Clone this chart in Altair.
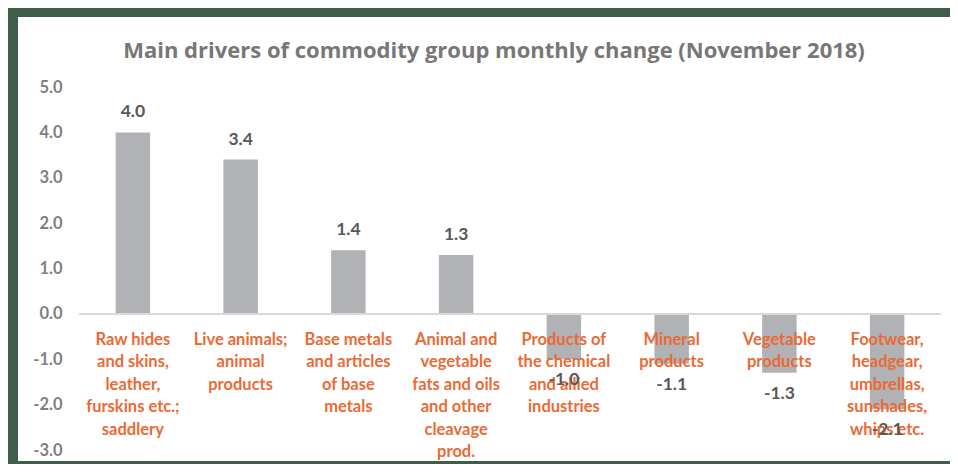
import altair as alt
import pandas as pd

title_text = "Main drivers of commodity group monthly change (November 2018)"
categories = [
    "Raw hides\nand skins,\nleather,\nfurskins etc.;\nsaddlery",
    "Live animals;\nanimal\nproducts",
    "Base metals\nand articles\nof base\nmetals",
    "Animal and\nvegetable\nfats and oils\nand other\ncleavage\nprod.",
    "Products of\nthe chemical\nand allied\nindustries",
    "Mineral\nproducts",
    "Vegetable\nproducts",
    "Footwear,\nheadgear,\numbrellas,\nsunshades,\nwhips etc.",
]
values = [4.0, 3.4, 1.4, 1.3, -1.0, -1.1, -1.3, -2.1]
y_ticks = [-3, -2, -1, 0, 1, 2, 3, 4, 5]

df = pd.DataFrame({"cat": categories, "value": values})

W, H = 862, 363
PL, PT, PR, PB = 71, 79, 9, 14
FONT = "Lato"
GREEN = "#3E5E4A"
LABEL_EXPR = "(datum.value < 0 ? '-' : '') + format(abs(datum.value), '.1f')"

x = alt.X("cat:N", sort=None, axis=None,
          scale=alt.Scale(paddingInner=0.68, paddingOuter=0.34))
y = alt.Y("value:Q",
          scale=alt.Scale(domain=[-3, 5], nice=False, zero=False),
          axis=alt.Axis(values=y_ticks, labelExpr=LABEL_EXPR, title=None, grid=False,
                        domain=False, ticks=False, labelFont=FONT,
                        labelFontWeight="bold", labelFontSize=16.5,
                        labelColor="#7F7F7F", labelPadding=17))

base = alt.Chart(df).transform_calculate(
    lbl="(datum.value < 0 ? '-' : '') + format(abs(datum.value), '.1f')"
)

bars = base.mark_bar(color="#B1B2B6").encode(x=x, y=y, y2=alt.datum(0))

zero = alt.Chart(pd.DataFrame({"z": [0]})).mark_rule(
    color="#D9D9D9", strokeWidth=2).encode(y=alt.Y("z:Q"))

cat_labels = base.mark_text(
    font=FONT, fontWeight="bold", fontSize=16.5, color="#EA6A35",
    baseline="top", align="center", lineBreak="\n", lineHeight=22.5, dy=18
).encode(x=x, y=alt.datum(0), text="cat:N")

pos_labels = base.transform_filter("datum.value >= 0").mark_text(
    font=FONT, fontWeight="bold", fontSize=17.5, color="#595959",
    baseline="middle", dy=-20
).encode(x=x, y=y, text="lbl:N")

neg_labels = base.transform_filter("datum.value < 0").mark_text(
    font=FONT, fontWeight="bold", fontSize=17.5, color="#595959",
    baseline="middle", dy=21
).encode(x=x, y=y, text="lbl:N")

one = pd.DataFrame({"k": [0]})
frame_top = alt.Chart(one).mark_rect(color=GREEN).encode(
    x=alt.value(-PL), x2=alt.value(W + PR), y=alt.value(-PT), y2=alt.value(-PT + 9))
frame_left = alt.Chart(one).mark_rect(color=GREEN).encode(
    x=alt.value(-PL), x2=alt.value(-PL + 10), y=alt.value(-PT), y2=alt.value(H + PB))
frame_bottom = alt.Chart(one).mark_rect(color=GREEN).encode(
    x=alt.value(-PL), x2=alt.value(W + PR), y=alt.value(H + PB - 3), y2=alt.value(H + PB))

title = alt.Chart(pd.DataFrame({"t": [title_text]})).mark_text(
    font="Open Sans", fontSize=22, fontWeight="bold", color="#777777",
    align="center", baseline="alphabetic"
).encode(text="t:N", x=alt.value(415), y=alt.value(-29))

chart = alt.layer(
    frame_top, frame_left, frame_bottom, title, bars, zero, cat_labels, neg_labels, pos_labels
).properties(
    width=W, height=H,
    autosize=alt.AutoSizeParams(type="none"),
    padding={"left": PL, "top": PT, "right": PR, "bottom": PB},
).configure(background="white").configure_view(stroke=None)

chart.save("out.html", embed_options={"renderer": "svg", "actions": False})
